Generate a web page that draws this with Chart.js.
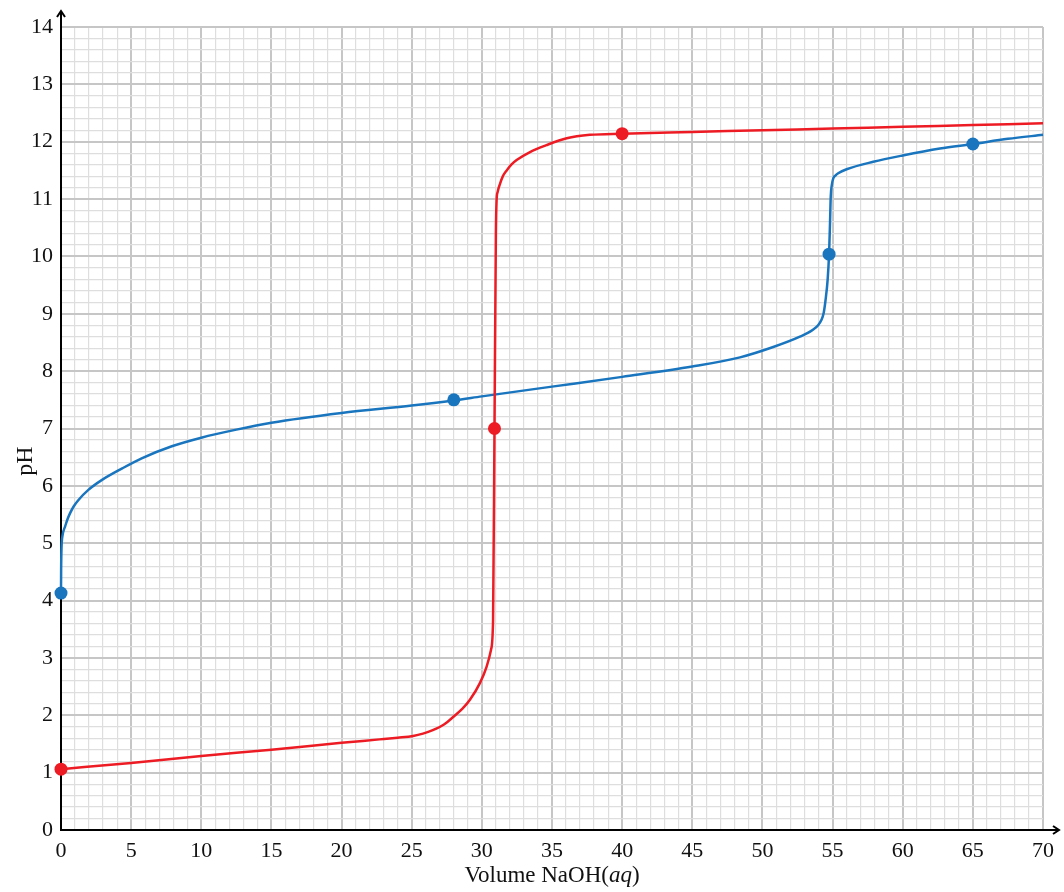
<!DOCTYPE html>
<html>
<head>
<meta charset="utf-8">
<script src="https://cdn.jsdelivr.net/npm/chart.js@4.4.1/dist/chart.umd.min.js"></script>
<style>
  html, body { margin: 0; padding: 0; background: #ffffff; }
  #wrap { width: 1064px; height: 892px; position: relative; }
</style>
</head>
<body>
<div id="wrap"><canvas id="c" width="1064" height="892"></canvas></div>
<script>
// ---- Data ----
const redX = [0, 5, 10, 15, 20, 22.7, 24, 25.1, 25.8, 26.5, 27.3, 28.0, 28.6, 29.15, 29.86, 30.34, 30.65, 30.8, 30.9, 31.0, 31.05, 31.12, 31.3, 31.5, 31.77, 32.1, 32.48, 33.43, 34.6, 36.05, 37.7, 40, 45, 50, 55, 60, 65, 70];
const redY = [1.06, 1.17, 1.29, 1.40, 1.52, 1.58, 1.61, 1.64, 1.68, 1.74, 1.84, 1.98, 2.11, 2.27, 2.56, 2.85, 3.14, 3.66, 7.0, 10.4, 10.98, 11.12, 11.27, 11.4, 11.5, 11.6, 11.68, 11.82, 11.94, 12.06, 12.12, 12.14, 12.17, 12.2, 12.23, 12.26, 12.29, 12.32];

const blueX = [0, 0.01, 0.025, 0.05, 0.12, 0.2, 0.29, 0.45, 0.64, 0.9, 1.23, 1.95, 2.9, 4.33, 5.75, 7.9, 10, 12.5, 15, 20, 25, 28, 30, 35, 40, 45, 48.4, 50.77, 52.67, 53.6, 54.0, 54.2, 54.37, 54.5, 54.65, 54.75, 54.82, 54.87, 54.95, 55.05, 55.2, 55.4, 56, 57.9, 60, 62.65, 65, 67.5, 70];
const blueY = [4.15, 4.55, 4.8, 5.0, 5.15, 5.23, 5.29, 5.41, 5.52, 5.64, 5.75, 5.93, 6.1, 6.3, 6.48, 6.69, 6.84, 6.98, 7.1, 7.27, 7.40, 7.49, 7.56, 7.73, 7.9, 8.08, 8.24, 8.42, 8.6, 8.72, 8.81, 8.89, 9.02, 9.24, 9.6, 10.04, 10.6, 11.05, 11.25, 11.36, 11.41, 11.45, 11.52, 11.65, 11.76, 11.88, 11.96, 12.05, 12.12];

const redMarkX = [0, 30.9, 40];
const redMarkY = [1.06, 7.0, 12.14];
const blueMarkX = [0, 28, 54.75, 65];
const blueMarkY = [4.13, 7.5, 10.04, 11.96];

const xMin = 0, xMax = 70, xStep = 1, xMajor = 5;
const yMin = 0, yMax = 14, yStep = 0.2, yMajor = 1;

const xTitleParts = [["Volume NaOH(", "normal"], ["aq", "italic"], [")", "normal"]];
const yTitle = "pH";

const RED = "#ed1c24";
const BLUE = "#1a75bf";
const FONT = "'Liberation Serif', 'DejaVu Serif', serif";

function pts(xs, ys) { return xs.map((x, i) => ({ x: x, y: ys[i] })); }

function isMult(v, m) { const r = v / m; return Math.abs(r - Math.round(r)) < 1e-6; }

const axesPlugin = {
  id: 'axesPlugin',
  beforeDatasetsDraw(chart) {
    const { ctx, chartArea } = chart;
    const xs = chart.scales.x, ys = chart.scales.y;
    const x0 = xs.getPixelForValue(0), y0 = ys.getPixelForValue(0);
    ctx.save();
    ctx.strokeStyle = "#000";
    ctx.lineWidth = 2;
    ctx.lineCap = "butt";
    // y axis
    ctx.beginPath();
    ctx.moveTo(x0, y0 + 1);
    ctx.lineTo(x0, chartArea.top - 15);
    ctx.stroke();
    // x axis
    ctx.beginPath();
    ctx.moveTo(x0 - 1, y0);
    ctx.lineTo(chartArea.right + 15, y0);
    ctx.stroke();
    // arrowheads
    ctx.lineWidth = 2;
    ctx.beginPath();
    const ty = chartArea.top - 16;
    ctx.moveTo(x0 - 4, ty + 6);
    ctx.lineTo(x0, ty);
    ctx.lineTo(x0 + 4, ty + 6);
    ctx.stroke();
    const tx = chartArea.right + 16;
    ctx.beginPath();
    ctx.moveTo(tx - 6, y0 - 4);
    ctx.lineTo(tx, y0);
    ctx.lineTo(tx - 6, y0 + 4);
    ctx.stroke();
    ctx.restore();
  },
  afterDraw(chart) {
    const { ctx, chartArea } = chart;
    ctx.save();
    ctx.fillStyle = "#111";
    // x title with italic part
    const size = 23;
    let widths = xTitleParts.map(p => { ctx.font = p[1] + " " + size + "px " + FONT; return ctx.measureText(p[0]).width; });
    const total = widths.reduce((a, b) => a + b, 0);
    let cx = (chartArea.left + chartArea.right) / 2 - total / 2;
    ctx.textBaseline = "alphabetic";
    ctx.textAlign = "left";
    xTitleParts.forEach((p, i) => {
      ctx.font = p[1] + " " + size + "px " + FONT;
      ctx.fillText(p[0], cx, 882);
      cx += widths[i];
    });
    // y title
    ctx.translate(26, 461);
    ctx.rotate(-Math.PI / 2);
    ctx.font = "normal 24px " + FONT;
    ctx.textAlign = "center";
    ctx.textBaseline = "middle";
    ctx.fillText(yTitle, 0, 0);
    ctx.restore();
  }
};

const lineDs = (label, xs, ys, color) => ({
  label: label,
  data: pts(xs, ys),
  showLine: true,
  borderColor: color,
  backgroundColor: color,
  borderWidth: 2.5,
  pointRadius: 0,
  pointHoverRadius: 0,
  cubicInterpolationMode: 'monotone',
  fill: false,
  clip: false,
  order: 2
});
const markDs = (label, xs, ys, color) => ({
  label: label,
  data: pts(xs, ys),
  showLine: false,
  borderColor: color,
  backgroundColor: color,
  pointRadius: 6.5,
  pointBorderWidth: 0,
  clip: false,
  order: 1
});

new Chart(document.getElementById('c'), {
  type: 'scatter',
  data: {
    datasets: [
      lineDs('red', redX, redY, RED),
      lineDs('blue', blueX, blueY, BLUE),
      markDs('redMarks', redMarkX, redMarkY, RED),
      markDs('blueMarks', blueMarkX, blueMarkY, BLUE)
    ]
  },
  options: {
    responsive: false,
    animation: false,
    devicePixelRatio: 1,
    layout: { padding: { left: 0, top: 27, right: 21, bottom: 0 } },
    plugins: { legend: { display: false }, tooltip: { enabled: false }, title: { display: false } },
    scales: {
      x: {
        type: 'linear',
        min: xMin, max: xMax,
        border: { display: false },
        grid: {
          drawTicks: false,
          color: c => isMult(c.tick.value, xMajor) ? "#c6c6c6" : "#dedede",
          lineWidth: c => isMult(c.tick.value, xMajor) ? 2 : 1.2
        },
        ticks: {
          stepSize: xStep,
          autoSkip: false,
          maxRotation: 0,
          padding: 8,
          color: "#111",
          font: { family: FONT, size: 22 },
          callback: v => isMult(v, xMajor) ? String(Math.round(v)) : ''
        },
        afterFit: s => { s.height = 62; }
      },
      y: {
        type: 'linear',
        min: yMin, max: yMax,
        border: { display: false },
        grid: {
          drawTicks: false,
          color: c => isMult(c.tick.value, yMajor) ? "#c6c6c6" : "#dedede",
          lineWidth: c => isMult(c.tick.value, yMajor) ? 2 : 1.2
        },
        ticks: {
          stepSize: yStep,
          autoSkip: false,
          padding: 8,
          color: "#111",
          font: { family: FONT, size: 22 },
          callback: v => isMult(v, yMajor) ? String(Math.round(v)) : ''
        },
        afterFit: s => { s.width = 61; }
      }
    }
  },
  plugins: [axesPlugin]
});
</script>
</body>
</html>
